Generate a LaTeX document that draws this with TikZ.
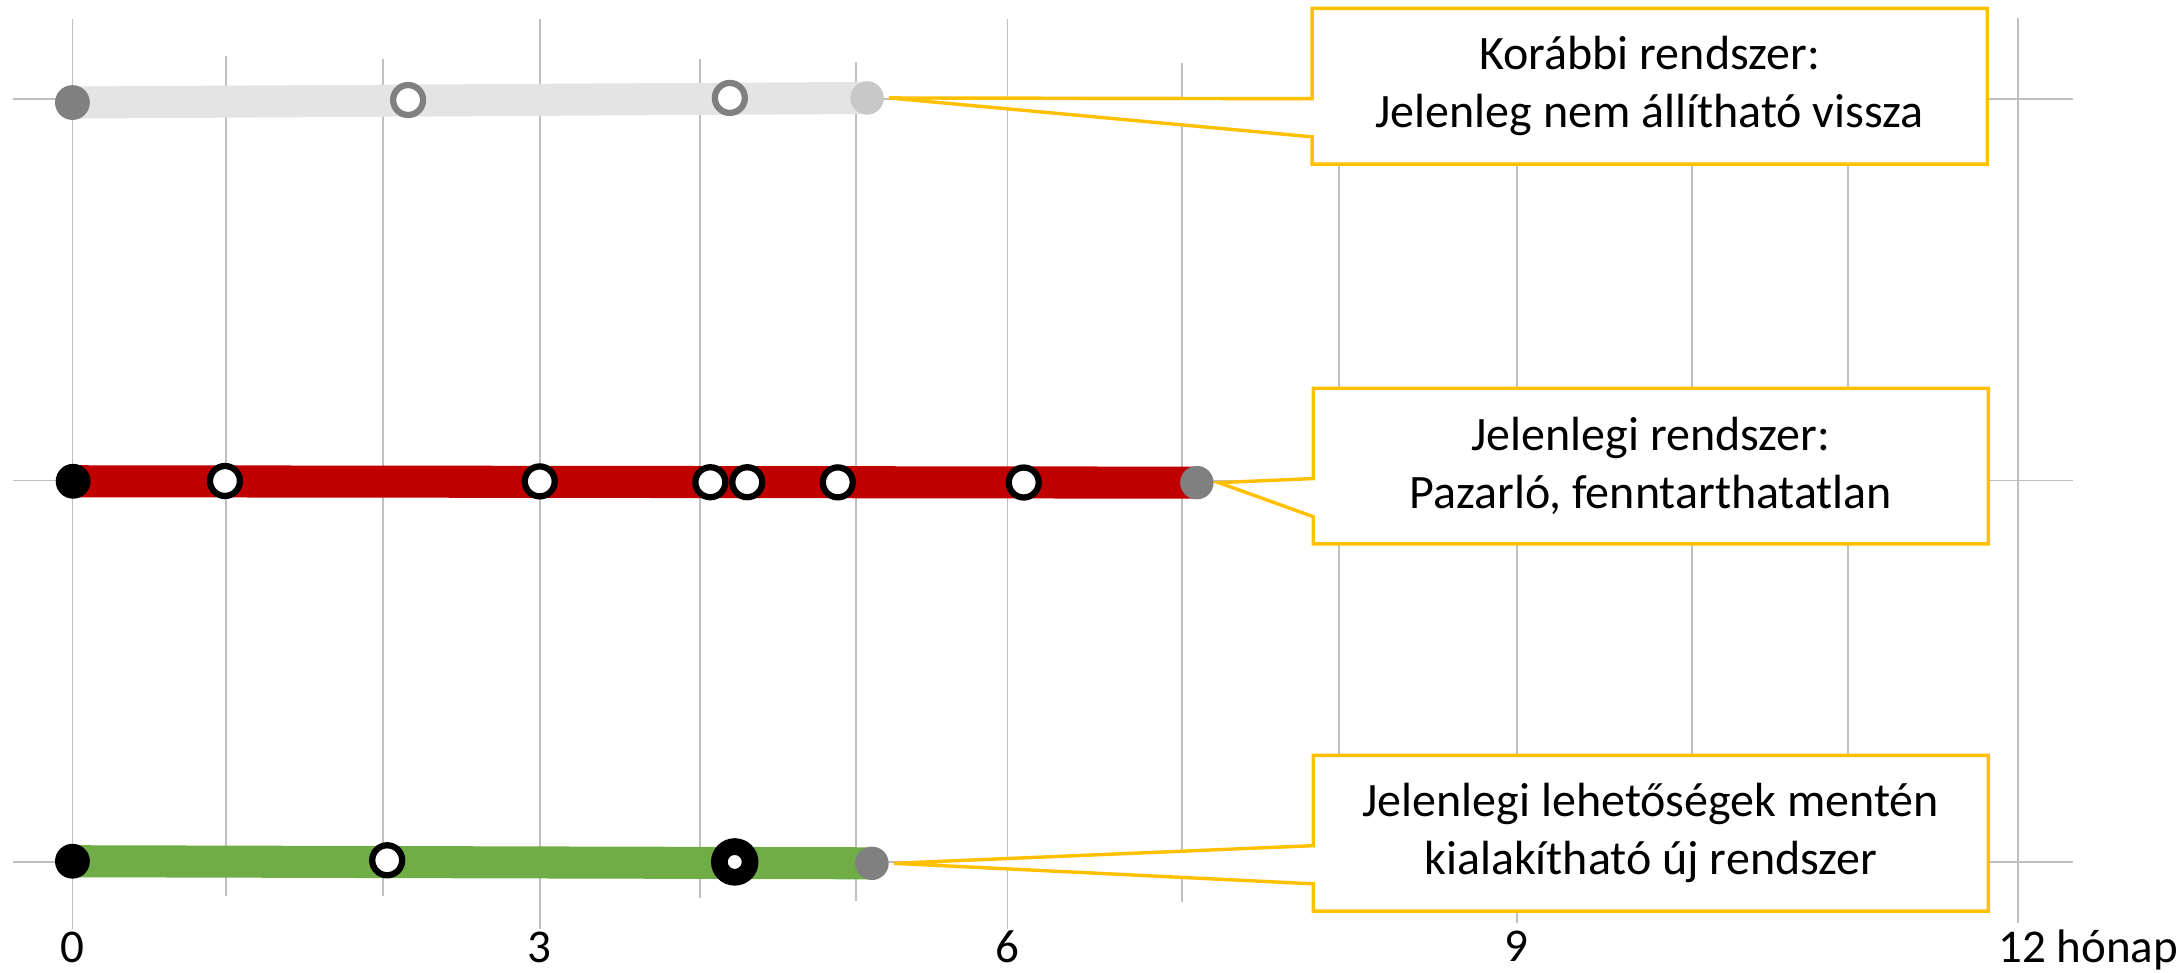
\documentclass[tikz,border=0pt]{standalone}
\usepackage{fontspec}
\setmainfont{Carlito}
\usetikzlibrary{calc}
\pgfdeclarelayer{gridlayer}
\pgfdeclarelayer{barlayer}
\pgfsetlayers{gridlayer,barlayer,main}
\definecolor{gridgray}{HTML}{BFBFBF}
\definecolor{calloutyellow}{HTML}{FFC000}
\definecolor{barred}{HTML}{C00000}
\definecolor{bargreen}{HTML}{70AD47}
\definecolor{barlight}{HTML}{E4E4E4}
\definecolor{markgray}{HTML}{808080}
\definecolor{endlight}{HTML}{C8C8C8}
\newcommand\bxfont{\fontsize{9.8pt}{11.9pt}\selectfont}
\newcommand\axfont{\fontsize{9.6pt}{11pt}\selectfont}
\begin{document}
\begin{tikzpicture}[x=0.01cm,y=-0.01cm,
  gridline/.style={draw=gridgray,line width=0.35pt},
  bar/.style={line width=0.23cm},
  dot/.style={circle,inner sep=0pt,minimum size=0.25cm},
  ring/.style={circle,inner sep=0pt,minimum size=0.215cm,fill=white,line width=0.045cm},
  endmark/.style={circle,inner sep=0pt,minimum size=0.24cm},
  bigring/.style={circle,inner sep=0pt,minimum size=0.22cm,fill=white,draw=black,line width=0.12cm},
  box/.style={rectangle,inner sep=0pt,minimum width=4.83cm,minimum height=1.103cm,align=center,font=\bxfont},
  wedge/.style={draw=calloutyellow,fill=white,line width=0.7pt,line join=miter},
  axislabel/.style={font=\axfont,inner sep=0pt}
]
\useasboundingbox (0,0) rectangle (1568,697.9);

% grid
\begin{pgfonlayer}{gridlayer}
\foreach \x/\t/\b in {52/13.4/667, 162/40/643, 275/42/643, 387.5/13.4/667, 502.5/42/645, 614.8/44.5/647, 723.3/13.4/667, 848.6/45.5/647.5, 961.3/46/650, 1089/13.4/663, 1214.8/46/650, 1326.6/46/650, 1449/13.2/663}
  \draw[gridline] (\x,\t) -- (\x,\b);
\foreach \y in {71.2,345,618.6}
  \draw[gridline] (9,\y) -- (1488,\y);
\end{pgfonlayer}

% top row
\node[dot,fill=markgray] (t0) at (52,73.6) {};
\node[ring,draw=markgray] (t1) at (293,71.8) {};
\node[ring,draw=markgray] (t2) at (524,70.3) {};
\node[endmark,fill=endlight] (t3) at (622.5,70.3) {};

% middle row
\node[dot,fill=black] (m0) at (52.5,345.5) {};
\node[ring,draw=black] (m1) at (161.5,345.3) {};
\node[ring,draw=black] (m2) at (387.5,345.6) {};
\node[ring,draw=black] (m3) at (510,346.2) {};
\node[ring,draw=black] (m4) at (536.5,346.2) {};
\node[ring,draw=black] (m5) at (601.5,346.3) {};
\node[ring,draw=black] (m6) at (735,346.4) {};
\node[endmark,fill=markgray] (m7) at (859.3,346.5) {};

% bottom row
\node[dot,fill=black] (b0) at (52,618.3) {};
\node[ring,draw=black] (b1) at (278,617.6) {};
\node[bigring] (b2) at (527.5,618.8) {};
\node[endmark,fill=markgray] (b3) at (626,619.8) {};

% bars
\begin{pgfonlayer}{barlayer}
\draw[bar,draw=barlight] (t0.center) -- (t3.center);
\draw[bar,draw=barred] (m0.center) -- (m7.center);
\draw[bar,draw=bargreen] (b0.center) -- (b3.center);
\end{pgfonlayer}

% callout boxes
\node[box] (k1) at (1184.4,61.9) {Korábbi rendszer:\\Jelenleg nem állítható vissza};
\node[box] (k2) at (1185.2,334.6) {Jelenlegi rendszer:\\Pazarló, fenntarthatatlan};
\node[box] (k3) at (1185.2,598.2) {Jelenlegi lehetőségek mentén\\kialakítható új rendszer};

\begin{pgfonlayer}{barlayer}
\foreach \k/\e in {k1/t3,k2/m7,k3/b3}
  \draw[wedge] (\k.north west) -- (\k.north east) -- (\k.south east) -- (\k.south west)
    -- ($(\k.north west)!0.825!(\k.south west)$) -- ([xshift=0.03cm]\e.east)
    -- ($(\k.north west)!0.58!(\k.south west)$) -- cycle;
\end{pgfonlayer}

% axis labels
\node[axislabel,anchor=base] (a0) at (52,691) {0};
\node[axislabel,anchor=base] (a3) at (387.5,691) {3};
\node[axislabel,anchor=base] (a6) at (723.5,691) {6};
\node[axislabel,anchor=base] (a9) at (1089,690) {9};
\node[axislabel,anchor=base west] (a12) at (1434,691) {12 hónap};
\end{tikzpicture}
\end{document}
